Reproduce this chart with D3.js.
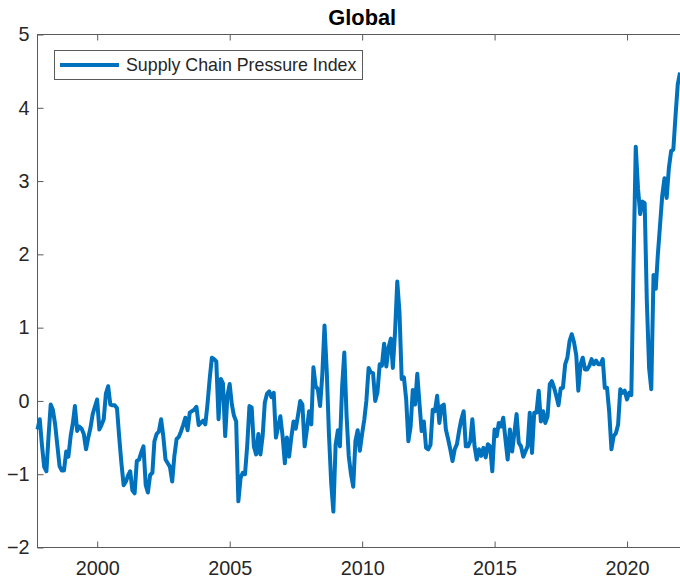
<!DOCTYPE html>
<html>
<head>
<meta charset="utf-8">
<script src="https://cdn.jsdelivr.net/npm/d3@7"></script>
<style>
  html, body { margin: 0; padding: 0; background: #ffffff; }
  svg { display: block; font-family: "Liberation Sans", Arial, Helvetica, sans-serif; }
</style>
</head>
<body>
<svg id="chart" width="680" height="580"></svg>
<script>
// Global Supply Chain Pressure Index, monthly (month-end), Sep 1997 – Dec 2021
const firstMonth = "1997-09";
const v1997 = [-0.39, -0.25, -0.60, -0.90];
const v1998 = [-0.96, -0.50, -0.05, -0.12, -0.32, -0.60, -0.89, -0.95, -0.95, -0.69, -0.76, -0.48];
const v1999 = [-0.30, -0.07, -0.41, -0.35, -0.38, -0.45, -0.66, -0.50, -0.37, -0.18, -0.08, 0.02];
const v2000 = [-0.39, -0.33, -0.25, 0.10, 0.20, -0.05, -0.06, -0.06, -0.10, -0.50, -0.85, -1.15];
const v2001 = [-1.10, -1.02, -0.96, -1.22, -1.26, -0.82, -0.80, -0.70, -0.62, -1.15, -1.25, -1.01];
const v2002 = [-0.98, -0.55, -0.45, -0.42, -0.25, -0.48, -0.80, -0.85, -0.90, -1.10, -0.75, -0.52];
const v2003 = [-0.49, -0.42, -0.33, -0.23, -0.40, -0.16, -0.14, -0.12, -0.08, -0.33, -0.30, -0.27];
const v2004 = [-0.32, -0.05, 0.30, 0.59, 0.57, 0.54, -0.25, 0.30, 0.24, -0.48, 0.07, 0.23];
const v2005 = [-0.05, -0.20, -0.28, -1.37, -1.05, -0.98, -1.00, -0.60, -0.07, -0.09, -0.62, -0.73];
const v2006 = [-0.45, -0.73, -0.48, -0.02, 0.10, 0.13, 0.05, 0.11, -0.50, -0.35, -0.21, -0.48];
const v2007 = [-0.85, -0.50, -0.76, -0.50, -0.28, -0.38, -0.20, 0.00, -0.05, -0.62, -0.40, -0.14];
const v2008 = [-0.32, 0.46, 0.20, 0.16, -0.07, 0.35, 1.03, 0.40, -0.45, -1.12, -1.51, -0.60];
const v2009 = [-0.40, -0.62, 0.20, 0.66, -0.20, -0.75, -1.00, -1.17, -0.55, -0.40, -0.68, -0.45];
const v2010 = [-0.25, 0.00, 0.45, 0.39, 0.38, 0.00, 0.12, 0.50, 0.48, 0.78, 0.47, 0.73];
const v2011 = [0.85, 0.45, 0.95, 1.63, 1.20, 0.30, 0.32, 0.02, -0.55, -0.35, 0.15, -0.05];
const v2012 = [0.37, -0.02, -0.41, -0.28, -0.64, -0.66, -0.60, -0.12, -0.14, 0.07, -0.30, -0.07];
const v2013 = [-0.05, -0.39, -0.52, -0.66, -0.82, -0.66, -0.59, -0.40, -0.25, -0.14, -0.62, -0.62];
const v2014 = [-0.55, -0.25, -0.62, -0.80, -0.66, -0.75, -0.64, -0.77, -0.59, -0.62, -0.96, -0.39];
const v2015 = [-0.48, -0.30, -0.35, -0.23, -0.53, -0.80, -0.39, -0.69, -0.44, -0.18, -0.57, -0.62];
const v2016 = [-0.76, -0.69, -0.62, -0.16, -0.71, -0.16, -0.16, 0.14, -0.28, -0.14, -0.30, -0.21];
const v2017 = [0.23, 0.27, 0.18, 0.07, -0.06, 0.17, 0.18, 0.50, 0.59, 0.82, 0.91, 0.80];
const v2018 = [0.62, 0.14, 0.50, 0.59, 0.43, 0.43, 0.48, 0.57, 0.50, 0.55, 0.50, 0.50];
const v2019 = [0.57, 0.18, 0.18, -0.15, -0.66, -0.48, -0.44, -0.32, 0.16, 0.11, 0.14, 0.02];
const v2020 = [0.11, 0.08, 1.90, 3.47, 2.90, 2.55, 2.72, 2.70, 1.35, 0.45, 0.16, 1.72];
const v2021 = [1.53, 1.99, 2.40, 2.80, 3.04, 2.77, 3.18, 3.41, 3.43, 3.90, 4.32, 4.48];

const seriesName = "Supply Chain Pressure Index";
const chartTitle = "Global";
const xTickYears = [2000, 2005, 2010, 2015, 2020];
const yTicks = [-2, -1, 0, 1, 2, 3, 4, 5];

const values = [].concat(v1997, v1998, v1999, v2000, v2001, v2002, v2003, v2004,
  v2005, v2006, v2007, v2008, v2009, v2010, v2011, v2012, v2013, v2014, v2015,
  v2016, v2017, v2018, v2019, v2020, v2021);

(function draw() {
  // month-end dates for each observation
  const start = d3.utcParse("%Y-%m")(firstMonth);
  const data = values.map((v, i) => ({
    date: d3.utcDay.offset(d3.utcMonth.offset(start, i + 1), -1),
    value: v
  }));

  // plot box
  const boxLeft = 37.5, boxTop = 34.5, boxBottom = 547.5, boxRight = 687;
  const lastX = 680;

  const x = d3.scaleUtc()
    .domain([data[0].date, data[data.length - 1].date])
    .range([boxLeft, lastX]);
  const y = d3.scaleLinear().domain([-2, 5]).range([boxBottom, boxTop]);

  const svg = d3.select("#chart");
  const axisColor = "#5a5a5a";
  const textColor = "#262626";
  const tickFont = "19.8px";

  const xTickDates = xTickYears.map(yr => new Date(Date.UTC(yr, 0, 1)));

  // bottom axis (inward ticks)
  const gx = svg.append("g")
    .attr("transform", `translate(0,${boxBottom})`)
    .call(d3.axisBottom(x).tickValues(xTickDates).tickFormat(d3.utcFormat("%Y"))
      .tickSizeInner(-6).tickSizeOuter(0).tickPadding(13));

  // top axis (ticks only)
  const gxt = svg.append("g")
    .attr("transform", `translate(0,${boxTop})`)
    .call(d3.axisTop(x).tickValues(xTickDates).tickFormat("")
      .tickSizeInner(-6).tickSizeOuter(0));

  // left axis (inward ticks)
  const gy = svg.append("g")
    .attr("transform", `translate(${boxLeft},0)`)
    .call(d3.axisLeft(y).tickValues(yTicks).tickFormat(d3.format("d"))
      .tickSizeInner(-6).tickSizeOuter(0).tickPadding(8));

  [gx, gxt, gy].forEach(g => {
    g.select(".domain").remove();
    g.selectAll(".tick line").attr("stroke", axisColor).attr("stroke-width", 1);
    g.selectAll(".tick text")
      .attr("fill", textColor)
      .style("font-size", tickFont)
      .style("font-family", "'Liberation Sans', Arial, Helvetica, sans-serif");
  });

  // axes box lines
  svg.append("path")
    .attr("d", `M${boxRight},${boxTop}H${boxLeft}V${boxBottom}H${boxRight}`)
    .attr("fill", "none")
    .attr("stroke", axisColor)
    .attr("stroke-width", 1)
    .attr("shape-rendering", "crispEdges");

  // data line
  const line = d3.line().x(d => x(d.date)).y(d => y(d.value));
  svg.append("path")
    .datum(data)
    .attr("d", line)
    .attr("fill", "none")
    .attr("stroke", "#0072BD")
    .attr("stroke-width", 4)
    .attr("stroke-linejoin", "round")
    .attr("stroke-linecap", "butt");

  // title
  svg.append("text")
    .attr("x", (boxLeft + boxRight) / 2)
    .attr("y", 25)
    .attr("text-anchor", "middle")
    .attr("fill", "#000")
    .style("font-size", "21.8px")
    .style("font-weight", "bold")
    .text(chartTitle);

  // legend
  const lg = svg.append("g");
  lg.append("rect")
    .attr("x", 54.5).attr("y", 50.5)
    .attr("width", 308).attr("height", 29)
    .attr("fill", "#fff")
    .attr("stroke", axisColor)
    .attr("stroke-width", 1);
  lg.append("line")
    .attr("x1", 60).attr("x2", 119)
    .attr("y1", 65).attr("y2", 65)
    .attr("stroke", "#0072BD")
    .attr("stroke-width", 4);
  lg.append("text")
    .attr("x", 126).attr("y", 65)
    .attr("dy", "0.35em")
    .attr("fill", textColor)
    .style("font-size", "17.8px")
    .text(seriesName);
})();
</script>
</body>
</html>
